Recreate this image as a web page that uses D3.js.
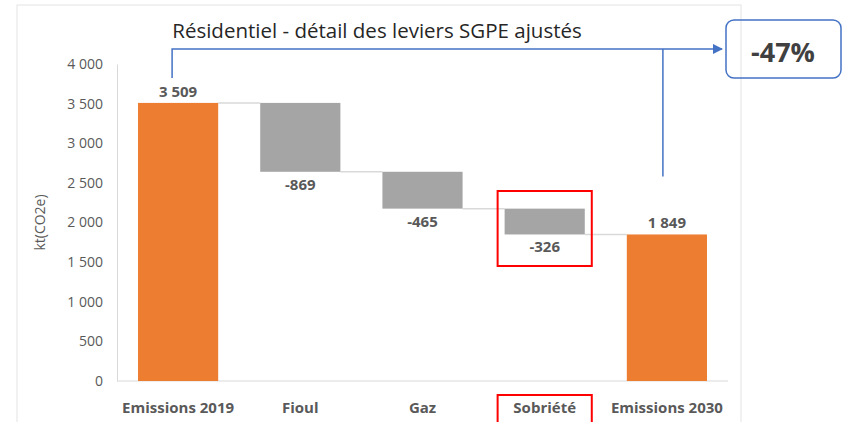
<!DOCTYPE html>
<html>
<head>
<meta charset="utf-8">
<script src="https://cdn.jsdelivr.net/npm/d3@7"></script>
<style>
  body { margin: 0; background: #fff; }
  text { font-family: "Open Sans", "Liberation Sans", sans-serif; }
</style>
</head>
<body>
<svg width="846" height="422"></svg>
<script>
var categories = ['Emissions 2019', 'Fioul', 'Gaz', 'Sobriété', 'Emissions 2030'];
var values = [3509, -869, -465, -326, 1849];
var kinds = ['total', 'delta', 'delta', 'delta', 'total'];
var yTicks = [0, 500, 1000, 1500, 2000, 2500, 3000, 3500, 4000];
var valueLabels = ['3 509', '-869', '-465', '-326', '1 849'];
var reduction = '-47%';

var svg = d3.select('svg');
var grey = '#595959';

// chart frame
svg.append('rect')
  .attr('x', 17).attr('y', 5).attr('width', 724).attr('height', 430)
  .attr('fill', 'none').attr('stroke', '#e3e3e3');

var x = d3.scaleBand().domain(categories).range([117, 728])
  .paddingInner(0.344).paddingOuter(0.172);
var y = d3.scaleLinear().domain([0, 4000]).range([381, 64]);

// waterfall: start / end of each bar
var running = 0;
var bars = categories.map((c, i) => {
  var b;
  if (kinds[i] === 'total') { b = {c: c, y0: 0, y1: values[i]}; running = values[i]; }
  else { b = {c: c, y0: running, y1: running + values[i]}; running += values[i]; }
  b.kind = kinds[i]; b.label = valueLabels[i];
  return b;
});

// axes
var yAxis = svg.append('g').attr('transform', 'translate(117,0)')
  .call(d3.axisLeft(y).tickValues(yTicks).tickSize(0).tickPadding(14)
    .tickFormat(d => d3.format(',')(d).replace(',', ' ')));
yAxis.select('.domain').attr('stroke', '#d9d9d9');
yAxis.selectAll('text').attr('fill', grey).style('font-size', '14px')
  .style('font-family', '"Open Sans", sans-serif');

svg.append('line').attr('x1', 117).attr('x2', 728).attr('y1', y(0)).attr('y2', y(0))
  .attr('stroke', '#d9d9d9');

svg.append('text')
  .attr('transform', 'translate(45,' + y(2000) + ') rotate(-90)')
  .attr('text-anchor', 'middle').attr('fill', grey).style('font-size', '14px')
  .text('kt(CO2e)');

// connectors
svg.selectAll('.conn').data(bars.slice(0, -1))
  .enter().append('line')
  .attr('x1', d => x(d.c) + x.bandwidth())
  .attr('x2', (d, i) => x(categories[i + 1]))
  .attr('y1', d => y(d.y1)).attr('y2', d => y(d.y1))
  .attr('stroke', '#d9d9d9').attr('stroke-width', 1.5);

// bars
svg.selectAll('.bar').data(bars)
  .enter().append('rect')
  .attr('x', d => x(d.c))
  .attr('width', x.bandwidth())
  .attr('y', d => y(Math.max(d.y0, d.y1)))
  .attr('height', d => Math.abs(y(d.y0) - y(d.y1)))
  .attr('fill', d => d.kind === 'total' ? '#ed7d31' : '#a5a5a5');

// value labels
svg.selectAll('.val').data(bars)
  .enter().append('text')
  .attr('x', d => x(d.c) + x.bandwidth() / 2)
  .attr('y', d => d.kind === 'total' ? y(d.y1) - 6 : y(d.y1) + 18)
  .attr('text-anchor', 'middle').attr('fill', grey)
  .style('font-size', '15px').style('font-weight', 'bold')
  .text(d => d.label);

// category labels
svg.selectAll('.cat').data(categories)
  .enter().append('text')
  .attr('x', d => x(d) + x.bandwidth() / 2)
  .attr('y', 413)
  .attr('text-anchor', 'middle').attr('fill', grey)
  .style('font-size', '15px').style('font-weight', 'bold')
  .text(d => d);

// title
svg.append('text')
  .attr('x', 377).attr('y', 38).attr('text-anchor', 'middle')
  .attr('fill', '#262626').style('font-size', '20.5px')
  .text('Résidentiel - détail des leviers SGPE ajustés');

// annotation arrows
var blue = '#4472c4';
svg.append('defs').append('marker')
  .attr('id', 'arr').attr('viewBox', '0 0 10 10').attr('refX', 9).attr('refY', 5)
  .attr('markerWidth', 7).attr('markerHeight', 7).attr('orient', 'auto')
  .append('path').attr('d', 'M0,0L10,5L0,10Z').attr('fill', blue);

var cx0 = x(categories[0]) + x.bandwidth() / 2 - 6;
var cx4 = x(categories[4]) + x.bandwidth() / 2 - 4;
svg.append('path')
  .attr('d', 'M' + cx0 + ',' + (y(values[0]) - 25) + 'V49H722')
  .attr('fill', 'none').attr('stroke', blue).attr('stroke-width', 1.5)
  .attr('marker-end', 'url(#arr)');
svg.append('path')
  .attr('d', 'M' + cx4 + ',' + (y(values[4]) - 58) + 'V49')
  .attr('fill', 'none').attr('stroke', blue).attr('stroke-width', 1.5);

svg.append('rect')
  .attr('x', 726).attr('y', 20).attr('width', 115).attr('height', 58).attr('rx', 8)
  .attr('fill', 'none').attr('stroke', blue).attr('stroke-width', 1.5);
svg.append('text')
  .attr('x', 783).attr('y', 62).attr('text-anchor', 'middle')
  .attr('fill', '#404040').style('font-size', '27px').style('font-weight', 'bold')
  .text(reduction);

// red highlight boxes
svg.append('rect')
  .attr('x', x('Sobriété') - 7).attr('y', 191).attr('width', x.bandwidth() + 14).attr('height', 75)
  .attr('fill', 'none').attr('stroke', '#ff0000').attr('stroke-width', 2);
svg.append('rect')
  .attr('x', x('Sobriété') - 7).attr('y', 395).attr('width', x.bandwidth() + 14).attr('height', 40)
  .attr('fill', 'none').attr('stroke', '#ff0000').attr('stroke-width', 2);
</script>
</body>
</html>
